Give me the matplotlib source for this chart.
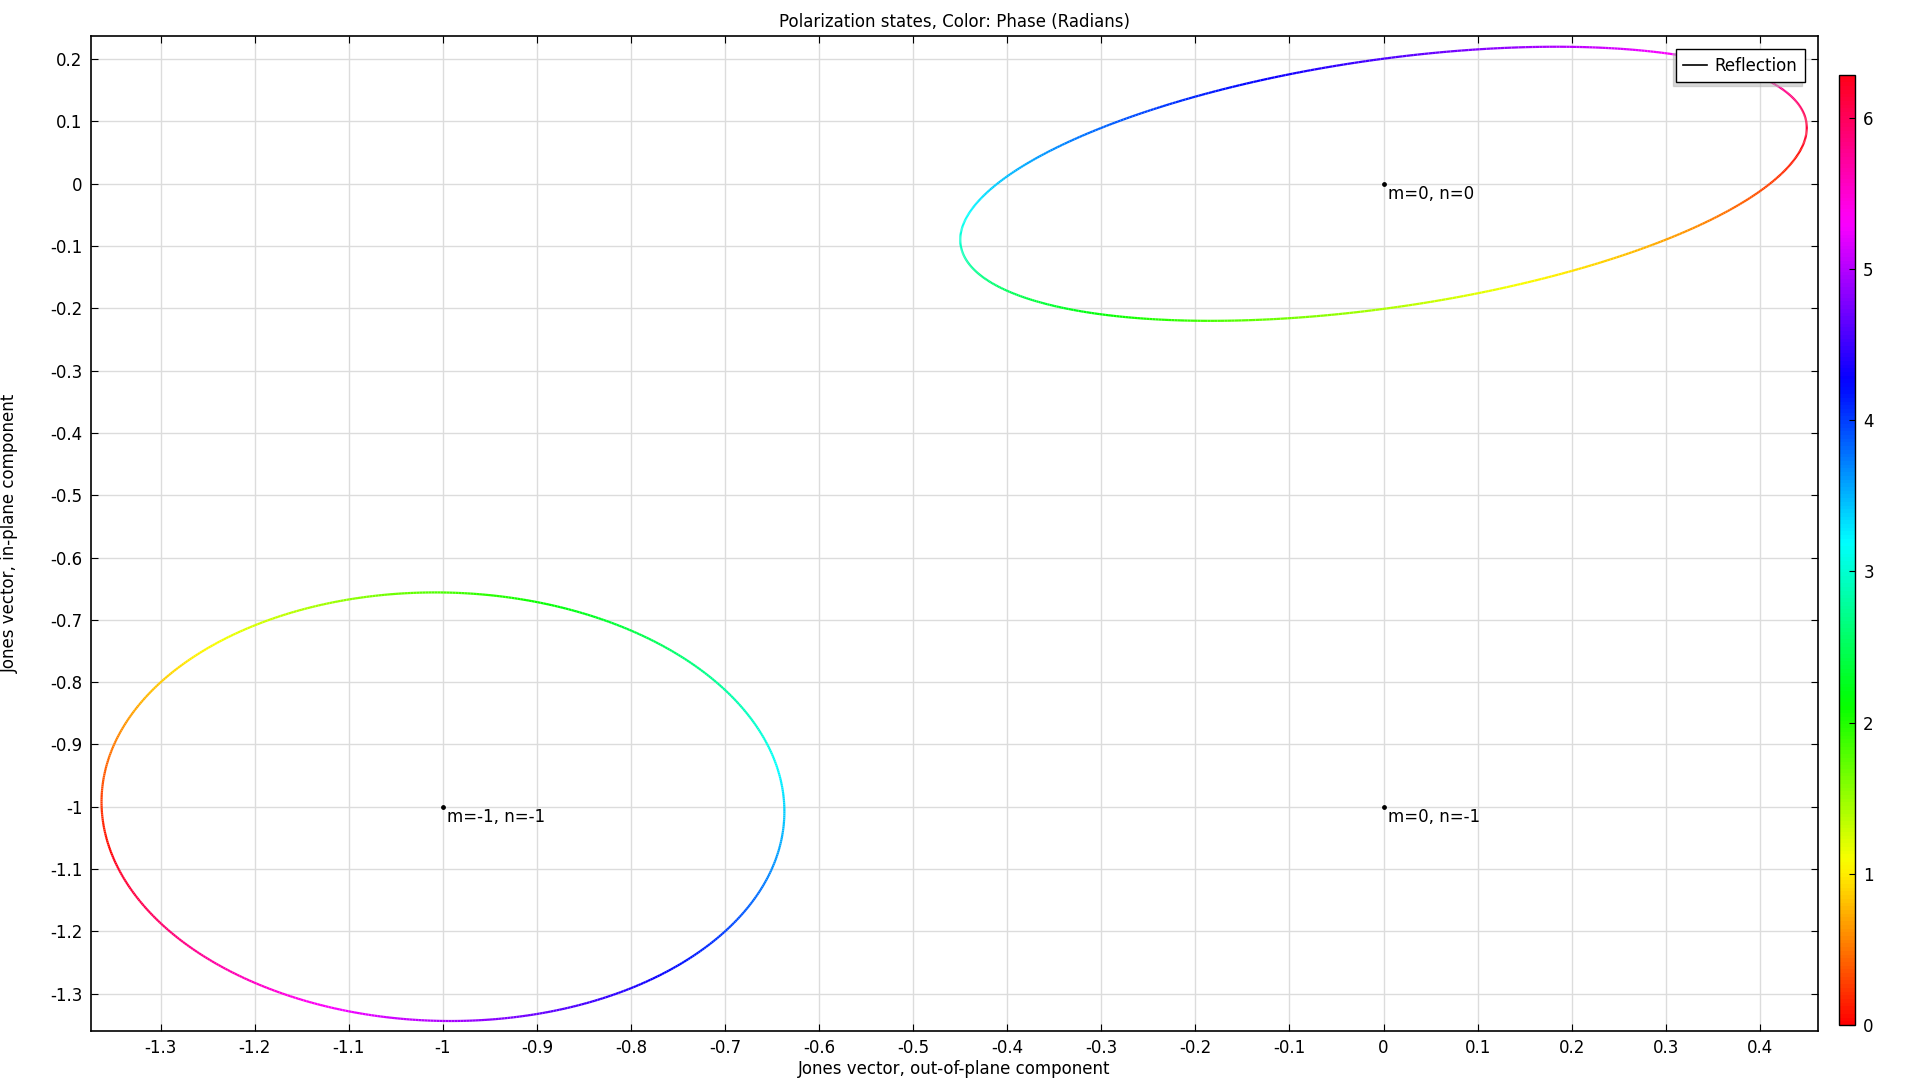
import numpy as np
import matplotlib
matplotlib.use("Agg")
import matplotlib.pyplot as plt
from matplotlib.collections import LineCollection
from matplotlib.lines import Line2D
from matplotlib.ticker import FuncFormatter

plt.rcParams['font.family'] = ['DejaVu Sans']
plt.rcParams['axes.unicode_minus'] = False

# Diffraction orders (center of each polarization plot)
orders = ["m=0, n=0", "m=-1, n=-1", "m=0, n=-1"]
center_x = [0.0, -1.0, 0.0]
center_y = [0.0, -1.0, -1.0]

# Jones vector: amplitude and phase of out-of-plane / in-plane component
amp_out = [0.450, 0.363, 0.0]
phase_out = [0.15, 2.89, 0.0]
amp_in = [0.220, 0.344, 0.0]
phase_in = [1.30, -1.80, 0.0]

x_ticks = np.round(np.arange(-1.3, 0.41, 0.1), 1)
y_ticks = np.round(np.arange(-1.3, 0.21, 0.1), 1)
cbar_ticks = [0, 1, 2, 3, 4, 5, 6]


def fmt(v, pos=None):
    v = round(v, 2)
    if abs(v) < 1e-9:
        return "0"
    return f"{v:g}"


def main():
    fig = plt.figure(figsize=(19.2, 10.8), dpi=100)
    ax = fig.add_axes([0.0472, 0.0454, 0.8997, 0.9217])
    cax = fig.add_axes([0.9578, 0.0509, 0.0083, 0.8796])

    norm = plt.Normalize(0, 2 * np.pi)
    cmap = plt.get_cmap("hsv")
    phase = np.linspace(0, 2 * np.pi, 721)

    for i in range(len(orders)):
        if amp_out[i] == 0 and amp_in[i] == 0:
            continue
        x = center_x[i] + amp_out[i] * np.cos(phase + phase_out[i])
        y = center_y[i] + amp_in[i] * np.cos(phase + phase_in[i])
        pts = np.column_stack([x, y]).reshape(-1, 1, 2)
        segs = np.concatenate([pts[:-1], pts[1:]], axis=1)
        lc = LineCollection(segs, cmap=cmap, norm=norm, linewidth=1.6)
        lc.set_array(0.5 * (phase[:-1] + phase[1:]))
        ax.add_collection(lc)

    # order markers and labels
    ax.scatter(center_x, center_y, s=6, color="black", zorder=3)
    for i, lab in enumerate(orders):
        ax.annotate(lab, (center_x[i], center_y[i]), xytext=(3, -1),
                    textcoords="offset points", ha="left", va="top",
                    fontsize=12, color="black")

    ax.set_xlim(-1.3746, 0.462)
    ax.set_ylim(-1.360, 0.238)
    ax.set_xticks(x_ticks)
    ax.set_yticks(y_ticks)
    ax.xaxis.set_major_formatter(FuncFormatter(fmt))
    ax.yaxis.set_major_formatter(FuncFormatter(fmt))
    ax.tick_params(direction="in", top=True, right=True, length=5,
                   labelsize=12, pad=6)
    ax.grid(True, color="#dcdcdc", linewidth=1)
    ax.set_axisbelow(True)
    for s in ax.spines.values():
        s.set_linewidth(1.2)

    ax.set_title("Polarization states, Color: Phase (Radians)", fontsize=12, pad=6)
    ax.set_xlabel("Jones vector, out-of-plane component", fontsize=12, labelpad=2)
    ax.set_ylabel("Jones vector, in-plane component", fontsize=12, labelpad=22)

    handle = Line2D([0], [0], color="black", linewidth=1.2)
    leg = ax.legend([handle], ["Reflection"], loc="upper right",
                    bbox_to_anchor=(0.9925, 0.9864), borderaxespad=0,
                    fontsize=12, fancybox=False,
                    shadow={'ox': -2, 'oy': -3, 'shade': 0.3},
                    framealpha=1, edgecolor="black",
                    handlelength=1.4, handletextpad=0.5, borderpad=0.45)
    leg.get_frame().set_linewidth(1.0)

    sm = plt.cm.ScalarMappable(norm=norm, cmap=cmap)
    cb = fig.colorbar(sm, cax=cax, ticks=cbar_ticks)
    cb.ax.tick_params(direction="in", length=4, labelsize=12, pad=6)
    cb.outline.set_linewidth(1.0)

    fig.savefig("out.png", dpi=100)
    plt.close(fig)


if __name__ == "__main__":
    main()
